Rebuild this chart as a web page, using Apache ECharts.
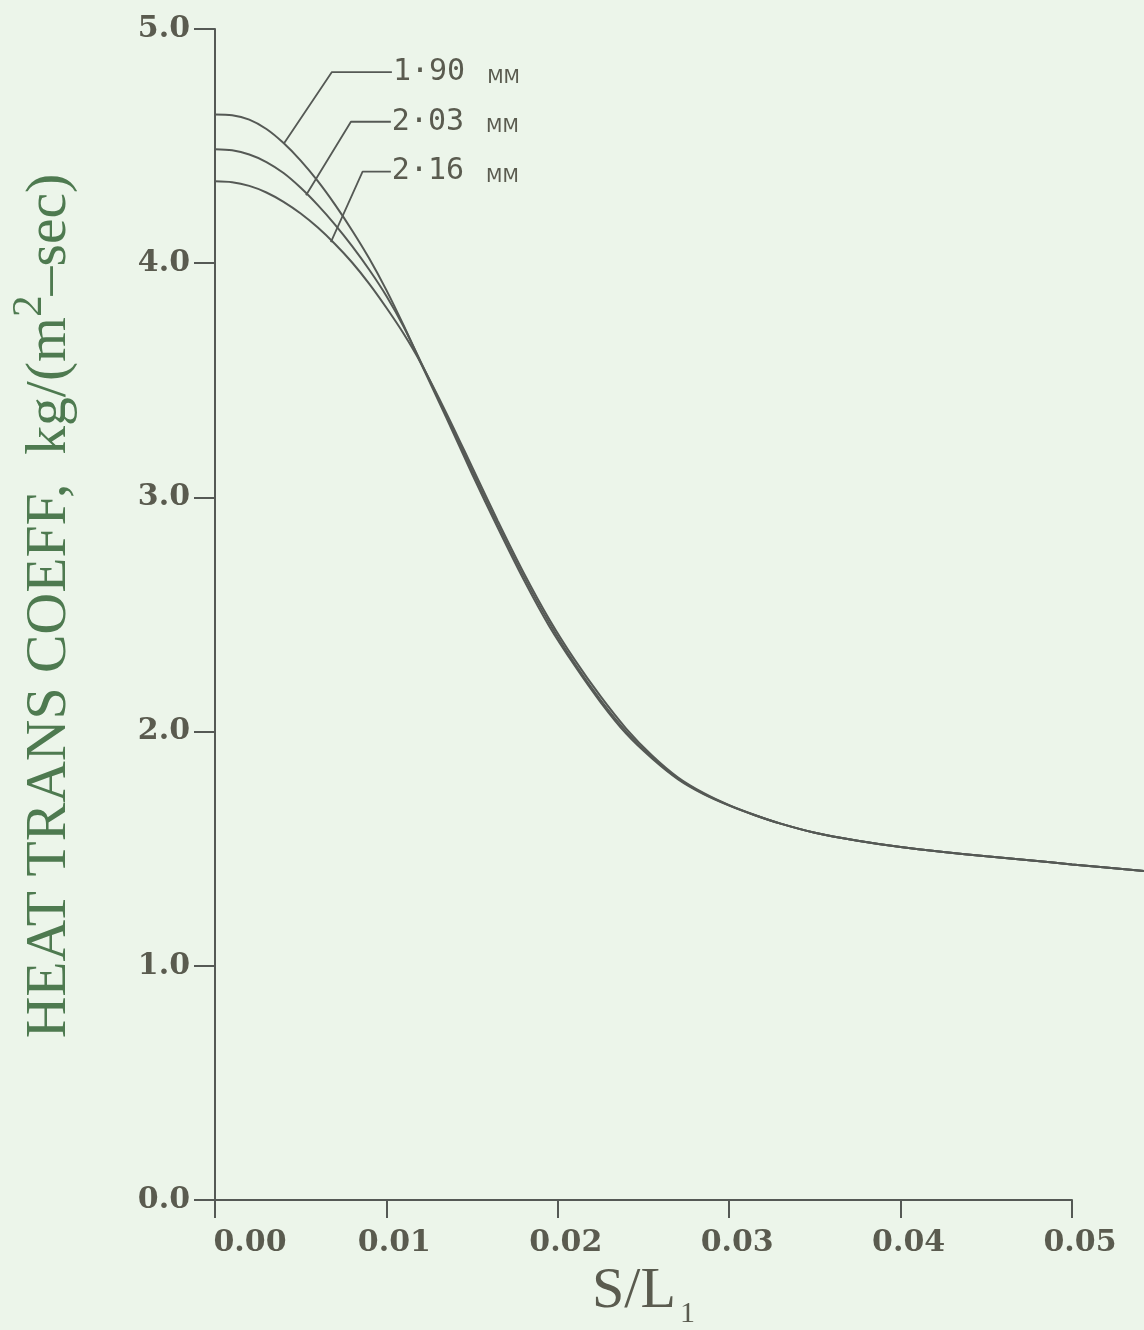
<!DOCTYPE html>
<html>
<head>
<meta charset="utf-8">
<script src="https://cdn.jsdelivr.net/npm/echarts@6/dist/echarts.min.js"></script>
<style>
html,body{margin:0;padding:0;background:#ecf5ea;}
#c{width:1144px;height:1330px;}
</style>
</head>
<body>
<div id="c"></div>
<script>
// S/L1 positions along the surface
const xValues = [0, 0.001, 0.002, 0.003, 0.004, 0.005, 0.006, 0.007, 0.008, 0.009, 0.010, 0.011, 0.012,
  0.0135, 0.015, 0.0165, 0.018, 0.0195, 0.021, 0.0225, 0.024, 0.0255, 0.027, 0.0285, 0.030, 0.0315,
  0.033, 0.035, 0.0375, 0.040, 0.0425, 0.045, 0.0475, 0.050, 0.0542];

// Heat transfer coefficient, kg/(m^2-sec)
const h190 = [4.635, 4.632, 4.613, 4.573, 4.513, 4.438, 4.35, 4.25, 4.14, 4.02, 3.885, 3.735, 3.575,
  3.34, 3.10, 2.87, 2.65, 2.45, 2.28, 2.125, 1.99, 1.885, 1.797, 1.733, 1.684, 1.643,
  1.607, 1.568, 1.534, 1.507, 1.486, 1.468, 1.451, 1.433, 1.405];
const h203 = [4.487, 4.482, 4.464, 4.432, 4.385, 4.322, 4.248, 4.165, 4.073, 3.972, 3.86, 3.73, 3.58,
  3.35, 3.115, 2.885, 2.665, 2.465, 2.29, 2.135, 2.0, 1.89, 1.80, 1.735, 1.685, 1.643,
  1.607, 1.568, 1.534, 1.507, 1.486, 1.468, 1.451, 1.433, 1.405];
const h216 = [4.35, 4.346, 4.33, 4.302, 4.262, 4.212, 4.152, 4.082, 4.003, 3.912, 3.81, 3.70, 3.575,
  3.36, 3.13, 2.90, 2.68, 2.48, 2.305, 2.15, 2.012, 1.898, 1.805, 1.738, 1.686, 1.644,
  1.607, 1.568, 1.534, 1.507, 1.486, 1.468, 1.451, 1.433, 1.405];

const curveNames = ['1·90', '2·03', '2·16'];
const curveUnit = 'MM';

// leader lines for the curve labels: [point on curve, elbow, label end] in data units
const leader190 = [[0.00404, 4.513], [0.00682, 4.816], [0.01032, 4.816]];
const leader203 = [[0.00531, 4.29], [0.00793, 4.604], [0.01026, 4.604]];
const leader216 = [[0.00676, 4.09], [0.00861, 4.391], [0.01026, 4.391]];

const xMin = 0, xMax = 0.05, xStep = 0.01;
const yMin = 0, yMax = 5, yStep = 1;

const xTitle = 'S/L';
const xTitleSub = '1';
const yTitleMain = 'HEAT TRANS COEFF,  kg/(m';
const yTitleSup = '2';
const yTitleEnd = '–sec)';

const ink = '#555955';
const labelInk = '#5a5b4f';
const green = '#4e7a50';

// layout
const W = 1144, gridLeft = 215, gridRight = 72, gridTop = 29, gridBottom = 130;
// the curves run past the last tick to the picture edge: a hidden axis with the same scale
const xMaxOuter = xMax * (W - gridLeft) / (W - gridLeft - gridRight);

function pairs(xs, ys) { return xs.map((x, i) => [x, ys[i]]); }

const chart = echarts.init(document.getElementById('c'), null, {renderer: 'canvas'});

function curveSeries(name, ys) {
  return {
    type: 'line', name: name, data: pairs(xValues, ys),
    xAxisIndex: 1, yAxisIndex: 1,
    smooth: 0.3, showSymbol: false, symbol: 'none', clip: false,
    lineStyle: {color: ink, width: 2}, silent: true, z: 3
  };
}
function leaderSeries(name, pts) {
  return {
    type: 'line', name: 'lead' + name, data: pts,
    xAxisIndex: 1, yAxisIndex: 1,
    showSymbol: false, symbol: 'none', clip: false, silent: true,
    lineStyle: {color: ink, width: 1.8}, z: 4,
    endLabel: {
      show: true, distance: 1,
      formatter: '{n|' + name + '}{u|' + curveUnit + '}',
      rich: {
        n: {fontFamily: 'DejaVu Sans Mono', fontSize: 30, color: labelInk},
        u: {fontFamily: 'DejaVu Sans', fontSize: 19, color: labelInk, padding: [0, 0, 0, 22], verticalAlign: 'bottom'}
      }
    }
  };
}

const labelFont = {fontFamily: 'DejaVu Serif', fontWeight: 'bold', fontSize: 30, color: labelInk};

chart.setOption({
  animation: false,
  backgroundColor: '#ecf5ea',
  grid: [
    {left: gridLeft, right: gridRight, top: gridTop, bottom: gridBottom, containLabel: false, outerBoundsMode: 'none'},
    {left: gridLeft, right: 0, top: gridTop, bottom: gridBottom, containLabel: false, outerBoundsMode: 'none'}
  ],
  xAxis: [{
    type: 'value', gridIndex: 0, min: xMin, max: xMax, interval: xStep,
    splitLine: {show: false},
    axisLine: {show: true, lineStyle: {color: ink, width: 2}},
    axisTick: {show: true, length: 18, lineStyle: {color: ink, width: 2}},
    axisLabel: {
      margin: 28,
      formatter: v => (Math.abs(v) < 1e-9 ? '{z|' + v.toFixed(2) + '}' : '{a|' + v.toFixed(2) + '}'),
      rich: {
        a: Object.assign({padding: [0, 0, 0, 16]}, labelFont),
        z: Object.assign({padding: [0, 0, 0, 70]}, labelFont)
      }
    },
    name: xTitle + '{s|' + xTitleSub + '}',
    nameLocation: 'middle', nameGap: 63,
    nameTextStyle: {
      fontFamily: 'Liberation Serif', fontSize: 58, color: labelInk,
      rich: {s: {fontFamily: 'Liberation Serif', fontSize: 30, lineHeight: 30, color: labelInk, verticalAlign: 'top', padding: [36, 0, 0, 4]}}
    }
  }, {
    type: 'value', gridIndex: 1, min: xMin, max: xMaxOuter, show: false
  }],
  yAxis: [{
    type: 'value', gridIndex: 0, min: yMin, max: yMax, interval: yStep,
    splitLine: {show: false},
    axisLine: {show: true, lineStyle: {color: ink, width: 2}},
    axisTick: {show: true, length: 21, lineStyle: {color: ink, width: 2}},
    axisLabel: Object.assign({margin: 25, formatter: v => v.toFixed(1)}, labelFont)
  }, {
    type: 'value', gridIndex: 1, min: yMin, max: yMax, show: false
  }],
  graphic: [{
    type: 'text', x: 50, y: 606, rotation: Math.PI / 2, scaleX: 1.03, silent: true,
    style: {
      text: yTitleMain + '{sup|' + yTitleSup + '}' + yTitleEnd,
      fontFamily: 'Liberation Serif', fontSize: 56, fill: green,
      align: 'center', verticalAlign: 'middle',
      rich: {sup: {fontFamily: 'Liberation Serif', fontSize: 42, fill: green, verticalAlign: 'bottom', padding: [0, 0, 40, 0]}}
    }
  }],
  series: [
    curveSeries(curveNames[0], h190),
    curveSeries(curveNames[1], h203),
    curveSeries(curveNames[2], h216),
    leaderSeries(curveNames[0], leader190),
    leaderSeries(curveNames[1], leader203),
    leaderSeries(curveNames[2], leader216)
  ]
});
</script>
</body>
</html>
